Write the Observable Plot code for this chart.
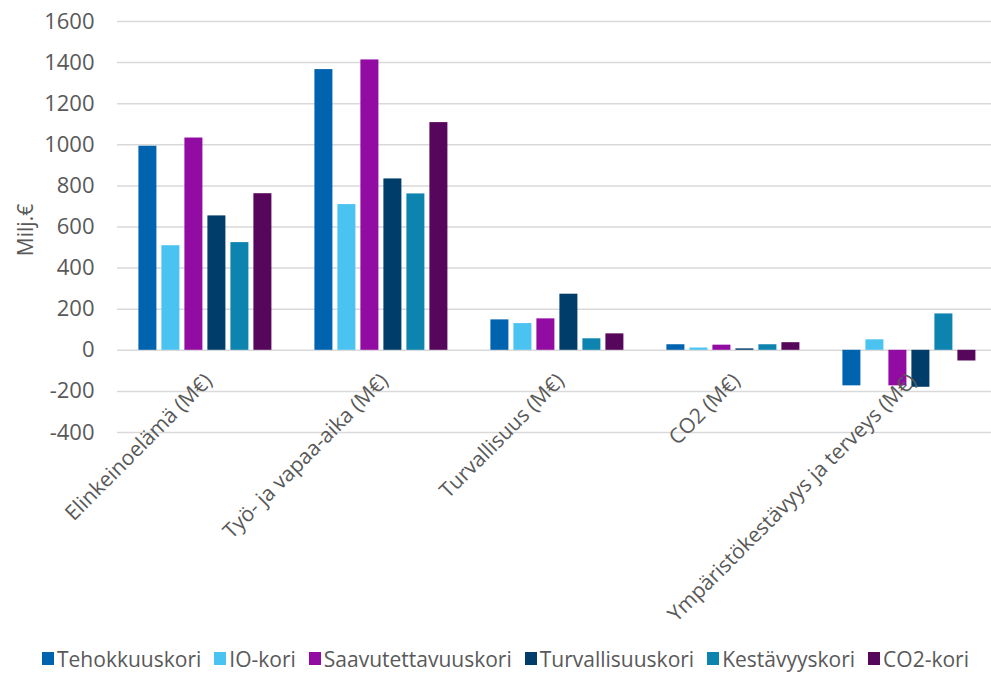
<!DOCTYPE html>
<html>
<head>
<meta charset="utf-8">
<script src="https://cdn.jsdelivr.net/npm/d3@7"></script>
<script src="https://cdn.jsdelivr.net/npm/@observablehq/plot@0.6"></script>
<style>
  html, body { margin: 0; padding: 0; background: #fff; overflow: hidden; }
  #wrap { position: relative; width: 991px; }
  #chart svg { display: block; overflow: hidden; }
  #ylabel { position: absolute; left: 25px; top: 230px; transform: translate(-50%, -50%) rotate(-90deg);
            font-family: "Open Sans", sans-serif; font-size: 21px; color: #595959; white-space: nowrap; }
  .legend { display: flex; justify-content: center; align-items: center; gap: 13px; height: 37px;
            font-family: "Open Sans", sans-serif; font-size: 21px; color: #595959; padding-left: 20px; }
  .legend span.item { display: inline-flex; align-items: center; }
  .legend span.sw { display: inline-block; width: 12px; height: 13px; margin-right: 3px; }
</style>
</head>
<body>
<div id="wrap">
<div id="chart"></div>
<div id="ylabel">Milj.€</div>
<div class="legend" id="legend"></div>
</div>
<script>
const categories = ["Elinkeinoelämä (M€)", "Työ- ja vapaa-aika (M€)", "Turvallisuus (M€)", "CO2 (M€)", "Ympäristökestävyys ja terveys (M€)"];
const series = ["Tehokkuuskori", "IO-kori", "Saavutettavuuskori", "Turvallisuuskori", "Kestävyyskori", "CO2-kori"];
const colors = ["#0063AF", "#4BC3F0", "#920CA3", "#003D6B", "#0D83B0", "#56065B"];
const tehokkuuskori      = [993, 1366, 148, 27, -173];
const ioKori             = [509, 709, 130, 11, 51];
const saavutettavuuskori = [1033, 1413, 153, 25, -173];
const turvallisuuskori   = [654, 834, 273, 7, -180];
const kestavyyskori      = [524, 761, 56, 27, 177];
const co2Kori            = [762, 1108, 80, 37, -52];
const yTicks = [-400, -200, 0, 200, 400, 600, 800, 1000, 1200, 1400, 1600];

const seriesValues = [tehokkuuskori, ioKori, saavutettavuuskori, turvallisuuskori, kestavyyskori, co2Kori];
const rows = [];
series.forEach((s, si) => categories.forEach((c, ci) => rows.push({category: c, series: s, value: seriesValues[si][ci]})));

const font = "'Open Sans', sans-serif";
const chart = Plot.plot({
  width: 991,
  height: 640,
  marginLeft: 115.6,
  marginRight: -8.4,
  marginTop: 21,
  marginBottom: 208,
  style: {fontFamily: font, background: "#fff"},
  fx: {domain: categories, paddingInner: 0, paddingOuter: 0, axis: null, label: null},
  x: {domain: series, paddingInner: 0.21, paddingOuter: 0.855, axis: null},
  y: {domain: [-400, 1600], axis: null},
  color: {domain: series, range: colors},
  marks: [
    Plot.gridY(yTicks, {stroke: "#d9d9d9", strokeWidth: 1.5, strokeOpacity: 1}),
    Plot.axisY(yTicks, {
      tickSize: 0, tickPadding: 23, fontSize: 22, fill: "#595959",
      tickFormat: d => String(d), label: null
    }),
    Plot.barY(rows, {fx: "category", x: "series", y: "value", fill: "series"}),
    Plot.text(categories, {
      fx: d => d, y: () => 0, text: d => d,
      rotate: -45, textAnchor: "end", lineAnchor: "middle",
      dx: 3, dy: 27, fontSize: 21, fill: "#595959"
    })
  ]
});
document.getElementById("chart").appendChild(chart);
d3.select(chart).selectAll("text")
  .filter(function() { return /^-?\d+$/.test(this.textContent); })
  .attr("font-size", 22).style("font-size", "22px");

const legend = document.getElementById("legend");
series.forEach((s, i) => {
  const item = document.createElement("span");
  item.className = "item";
  const sw = document.createElement("span");
  sw.className = "sw";
  sw.style.background = colors[i];
  item.appendChild(sw);
  item.appendChild(document.createTextNode(s));
  legend.appendChild(item);
});
</script>
</body>
</html>
